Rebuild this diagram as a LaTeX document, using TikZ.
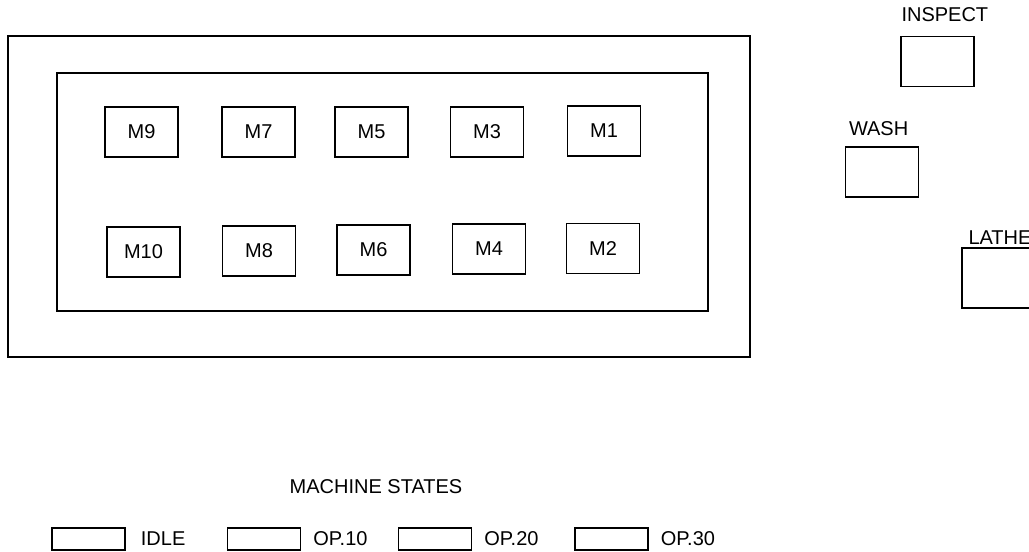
\documentclass[tikz,border=0pt]{standalone}
\usepackage{fontspec}
\setmainfont{Liberation Sans}
\usetikzlibrary{positioning}

\begin{document}
\begin{tikzpicture}[x=1pt,y=-1pt,
      mach/.style={draw,line width=1.4pt,minimum width=73pt,minimum height=50pt,
                   inner sep=0pt,font=\fontsize{20}{22}\selectfont},
      stn/.style={mach},
      keybox/.style={draw,line width=1.4pt,minimum width=73pt,minimum height=22pt,inner sep=0pt},
      lbl/.style={inner sep=0pt,font=\fontsize{20}{22}\selectfont}]
    \clip (0,0) rectangle (1029,552);
    % cell outline
    \draw[line width=1.4pt] (8,36) rectangle (750,357);
    \draw[line width=1.4pt] (57,73) rectangle (708,311);
    % machines
    \node[mach] (m9)  at (141.5,132) {M9};
    \node[mach] (m7)  at (258.5,132) {M7};
    \node[mach] (m5)  at (371.5,132) {M5};
    \node[mach] (m3)  at (487,132)   {M3};
    \node[mach] (m1)  at (604,131)   {M1};
    \node[mach] (m10) at (143.5,252) {M10};
    \node[mach] (m8)  at (259,251)   {M8};
    \node[mach] (m6)  at (373.5,250) {M6};
    \node[mach] (m4)  at (489,249)   {M4};
    \node[mach] (m2)  at (603,248.5) {M2};
    % other stations
    \node[stn] (insp)  at (937.5,61.5) {};
    \node[stn] (wash)  at (882,172)    {};
    \node[stn,minimum height=60pt] (lathe) at (998.5,278) {};
    \node[lbl,above right=14pt and 1pt of insp.north west]  {INSPECT};
    \node[lbl,above right=10pt and 4pt of wash.north west]  {WASH};
    \node[lbl,above right=3pt and 7pt of lathe.north west]  {LATHE};
    % legend
    \node[lbl] (states) at (376,487) {MACHINE STATES};
    \node[keybox] (idle) at (88.5,539) {};
    \node[keybox] (op10) at (264,539)  {};
    \node[keybox] (op20) at (435,539)  {};
    \node[keybox] (op30) at (611.5,539) {};
    \node[lbl,right=15pt of idle] {IDLE};
    \node[lbl,right=12pt of op10] {OP.10};
    \node[lbl,right=12pt of op20] {OP.20};
    \node[lbl,right=12pt of op30] {OP.30};
  \end{tikzpicture}
\end{document}
